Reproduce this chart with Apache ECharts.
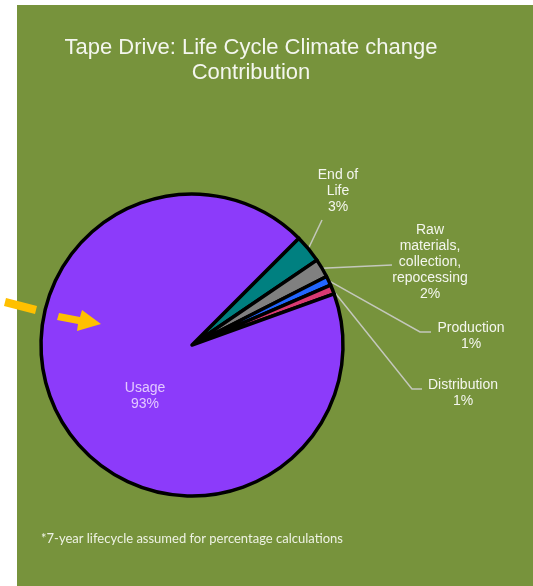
<!DOCTYPE html>
<html>
<head>
<meta charset="utf-8">
<script src="https://cdn.jsdelivr.net/npm/echarts@6/dist/echarts.min.js"></script>
<style>
  html, body { margin: 0; padding: 0; background: #ffffff; }
  #Pie { width: 533px; height: 586px; }
</style>
</head>
<body>
<div id="Pie"></div>
<script>
// life cycle stages, clockwise from the top of the small slices
var stages = ["End of\nLife", "Raw\nmaterials,\ncollection,\nrepocessing", "Production", "Distribution", "Usage"];
var shares = [3, 2, 1, 1, 93];
var sliceColors = ["#008080", "#808080", "#2266ff", "#d93a72", "#8c3bfa"];

// where each label sits and how its leader line bends
var labelSpots = [
  { x: 338, y: 191, bend: [322, 220], end: [322, 220] },
  { x: 430, y: 262, bend: [392, 265], end: [392, 265] },
  { x: 471, y: 336, bend: [420, 332], end: [431, 332] },
  { x: 463, y: 393, bend: [412, 389], end: [422, 389] },
  { x: 145, y: 396 }
];

var myChart = echarts.init(document.getElementById("Pie"));
var font = "'Liberation Sans', Arial, sans-serif";

var pieData = stages.map(function (name, i) {
  var item = {
    name: name,
    value: shares[i],
    itemStyle: { color: sliceColors[i] }
  };
  if (i === 4) {
    item.label = { color: "#e3c9ff" };
    item.labelLine = { show: false };
  }
  return item;
});

var option = {
  backgroundColor: "#ffffff",
  title: [
    {
      text: "Tape Drive: Life Cycle Climate change\nContribution",
      left: 246,
      top: 30,
      textAlign: "center",
      textStyle: {
        color: "#f4f6ee",
        fontFamily: font,
        fontSize: 22,
        fontWeight: "normal",
        lineHeight: 25
      }
    },
    {
      text: "*7-year lifecycle assumed for percentage calculations",
      left: 36,
      top: 527,
      textStyle: {
        color: "#eef2e4",
        fontFamily: "Lato, 'Open Sans', sans-serif",
        fontSize: 13,
        fontWeight: "normal"
      }
    }
  ],
  graphic: [
    {
      type: "rect",
      z: -10,
      silent: true,
      shape: { x: 17, y: 5, width: 516, height: 581 },
      style: { fill: "#77933c" }
    },
    {
      type: "polygon",
      z: 100,
      silent: true,
      shape: { points: [[6, 298], [37, 306], [35, 314], [4, 306]] },
      style: { fill: "#ffc000" }
    },
    {
      type: "polygon",
      z: 100,
      silent: true,
      shape: { points: [[59, 313], [80, 317], [82, 310], [101, 324], [77, 331], [78, 324], [57, 320]] },
      style: { fill: "#ffc000" }
    }
  ],
  series: [
    {
      type: "pie",
      center: [192, 345],
      radius: 151,
      startAngle: 45,
      clockwise: true,
      avoidLabelOverlap: false,
      data: pieData,
      itemStyle: {
        borderColor: "#000000",
        borderWidth: 3.5
      },
      label: {
        show: true,
        position: "outside",
        color: "#f4f6ee",
        fontFamily: font,
        fontSize: 14,
        lineHeight: 16,
        align: "center",
        formatter: function (p) {
          return p.name + "\n" + p.value + "%";
        }
      },
      labelLine: {
        show: true,
        length: 10,
        length2: 10,
        lineStyle: { color: "#c4c8bc", width: 1.5 }
      },
      emphasis: { disabled: true },
      labelLayout: function (params) {
        var s = labelSpots[params.dataIndex];
        var out = { x: s.x, y: s.y, align: "center", verticalAlign: "middle" };
        if (s.bend && params.labelLinePoints) {
          out.labelLinePoints = [params.labelLinePoints[0], s.bend, s.end];
        }
        return out;
      }
    }
  ]
};

option && myChart.setOption(option);
</script>
</body>
</html>
